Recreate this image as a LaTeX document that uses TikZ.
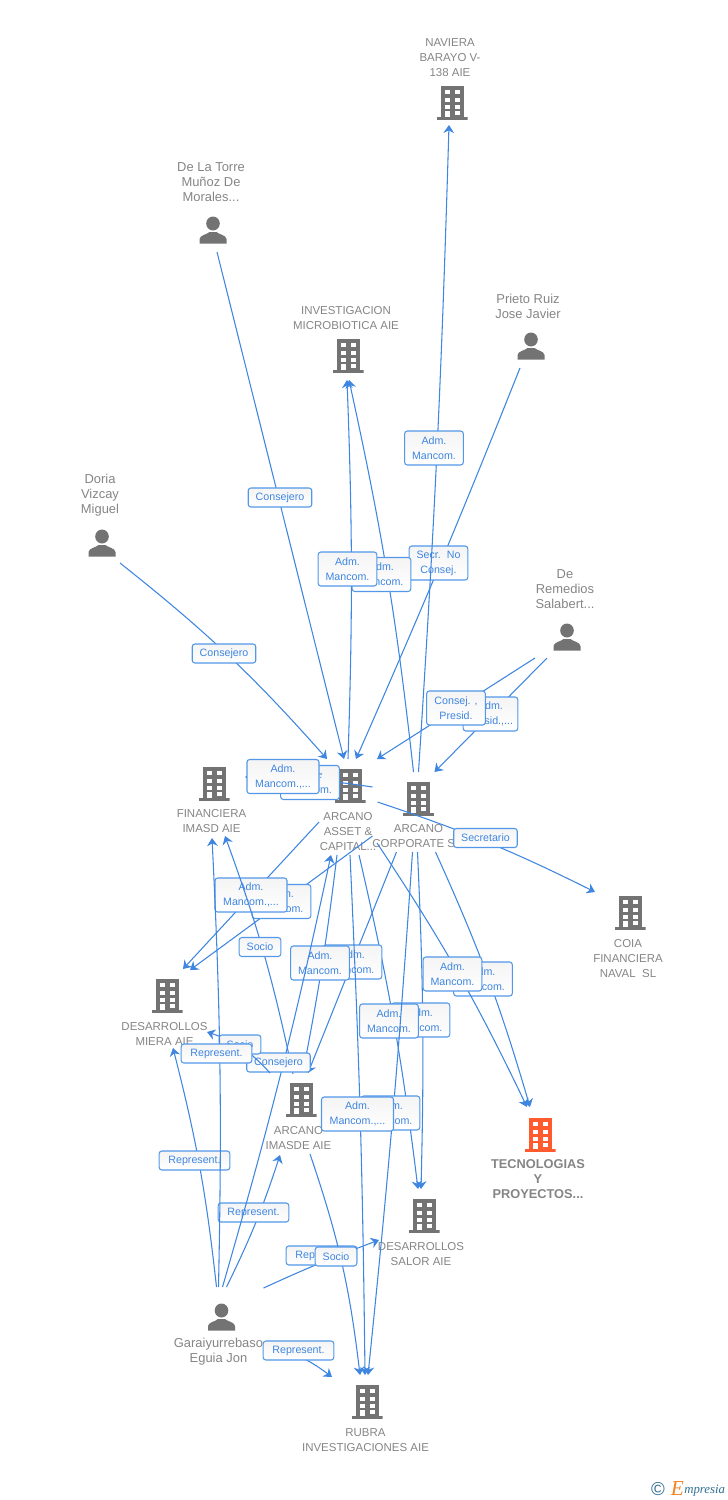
\documentclass[tikz,border=0pt]{standalone}
\usepackage{fontspec}
\setmainfont{Liberation Sans}
\newfontfamily\logofont{Liberation Serif}
\usepackage{tikz}
\usetikzlibrary{shapes, arrows.meta, positioning, calc}

\definecolor{iconGray}{HTML}{737373}
\definecolor{textGray}{HTML}{858585}
\definecolor{edgeBlue}{HTML}{3F86E0}
\definecolor{roleBorder}{HTML}{5398E8}
\definecolor{roleFill}{HTML}{F4F4F4}
\definecolor{hiOrange}{HTML}{FF5B2E}
\definecolor{logoTeal}{HTML}{2F6F8F}
\definecolor{logoOrange}{HTML}{F58220}

\newcommand{\buildingicon}[1]{
    \begin{scope}[shift={(path picture bounding box.center)}, x=0.75pt, y=-0.75pt]
        \fill[#1] (-11.5,-17) rectangle (11.5,15);
        \fill[#1] (-15.5,14) rectangle (15.5,17);
        \foreach \ypos in {-13,-5.5,2} {
            \fill[white] (-7.5,\ypos) rectangle (-2.4,\ypos+4.4);
            \fill[white] (2.6,\ypos) rectangle (7.8,\ypos+4.4);
        }
        \fill[white] (-7.5,8) rectangle (-2.4,14);
        \fill[white] (2.6,8) rectangle (7.8,12.4);
    \end{scope}
}
\newcommand{\personicon}{
    \begin{scope}[shift={(path picture bounding box.center)}, x=0.75pt, y=-0.75pt]
        \fill[iconGray] (0,-6.5) ellipse (6.8 and 7);
        \fill[iconGray] (-13.5,13.5) -- (-13.5,9) .. controls (-13,5) and (-6,4.5) .. (-3.5,2)
            -- (3.5,2) .. controls (6,4.5) and (13,5) .. (13.5,9) -- (13.5,13.5) -- cycle;
    \end{scope}
}

\begin{document}
\begin{tikzpicture}[x=0.75pt, y=-0.75pt]
    \tikzstyle{building} = [minimum width=23.25pt, minimum height=25.5pt, inner sep=0pt,
        path picture={\buildingicon{iconGray}}];
    \tikzstyle{buildingHi} = [building, path picture={\buildingicon{hiOrange}}];
    \tikzstyle{person} = [minimum width=20.25pt, minimum height=20.25pt, inner sep=0pt,
        path picture={\personicon}];
    \tikzstyle{company} = [align=center, inner sep=0pt, text=textGray,
        font=\fontsize{8.6}{11.25}\selectfont];
    \tikzstyle{companyHi} = [align=center, inner sep=0pt, text=textGray,
        font=\fontsize{9.6}{11.25}\selectfont\bfseries];
    \tikzstyle{people} = [align=center, inner sep=0pt, text=textGray,
        font=\fontsize{9.7}{11.25}\selectfont];
    \tikzstyle{rolebox} = [draw=roleBorder, line width=0.8pt, rounded corners=2pt,
        top color=roleFill, bottom color=white, text=edgeBlue, align=center,
        inner ysep=0pt, inner xsep=5.6pt, minimum height=14.25pt,
        font=\fontsize{8}{11.25}\selectfont];
    \tikzstyle{admbox} = [rolebox, inner xsep=0pt, minimum width=44pt, minimum height=25.5pt];
    \tikzstyle{admwide} = [admbox, minimum width=54pt];
    \tikzstyle{connector} = [draw=edgeBlue, line width=0.8pt,
        -{Stealth[length=6pt, width=8pt]}];

    \useasboundingbox (0,0) rectangle (728,1500);

    \node[building] at (452,103) (naviera) {};
    \node[company] at (450,58) (navieraText) {NAVIERA\\BARAYO V-\\138 AIE};
    \node[person] at (213,230) (delaTorre) {};
    \node[people] at (211,182) (delaTorreText) {De La Torre\\Muñoz De\\Morales...};
    \node[building] at (348,356) (investigacion) {};
    \node[company] at (346,318.5) (investigacionText) {INVESTIGACION\\MICROBIOTICA AIE};
    \node[person] at (531,346) (prieto) {};
    \node[people] at (528,306.5) (prietoText) {Prieto Ruiz\\Jose Javier};
    \node[person] at (102,543) (doria) {};
    \node[people] at (100,495) (doriaText) {Doria\\Vizcay\\Miguel};
    \node[person] at (567,637) (remedios) {};
    \node[people] at (565,589) (remediosText) {De\\Remedios\\Salabert...};
    \node[building] at (214,784) (financiera) {};
    \node[company] at (211.5,821.5) (financieraText) {FINANCIERA\\IMASD AIE};
    \node[building] at (350,786) (asset) {};
    \node[company] at (348,832) (assetText) {ARCANO\\ASSET \&\\CAPITAL...};
    \node[building] at (418.5,799) (corporate) {};
    \node[company] at (418.5,836.5) (corporateText) {ARCANO\\CORPORATE S...};
    \node[building] at (630,913) (coia) {};
    \node[company] at (628,959) (coiaText) {COIA\\FINANCIERA\\NAVAL\ \ SL};
    \node[building] at (167,996) (miera) {};
    \node[company] at (164.5,1033.5) (mieraText) {DESARROLLOS\\MIERA AIE};
    \node[building] at (301,1100) (imasde) {};
    \node[company] at (298.5,1138.5) (imasdeText) {ARCANO\\IMASDE AIE};
    \node[buildingHi] at (540,1135) (tecnologias) {};
    \node[companyHi] at (538,1179) (tecnologiasText) {TECNOLOGIAS\\Y\\PROYECTOS...};
    \node[building] at (424,1216) (salor) {};
    \node[company] at (421,1254.5) (salorText) {DESARROLLOS\\SALOR AIE};
    \node[person] at (221.5,1317) (garai) {};
    \node[people] at (218.5,1351.5) (garaiText) {Garaiyurrebaso\\Eguia Jon};
    \node[building] at (367,1402) (rubra) {};
    \node[company] at (365.5,1440.5) (rubraText) {RUBRA\\INVESTIGACIONES AIE};

    \path[connector] ($(prieto)+(-11,22)$) to[bend left=1] ($(asset)+(6,-27)$);
    \node[admbox] at (438.5,563) (rolePrieto) {Secr.\ \ No\\Consej.};
    \path[connector] ($(corporate)+(0,-27)$) to[bend right=1] ($(naviera)+(-3,22)$);
    \node[admbox] at (434,448) (roleNaviera) {Adm.\\Mancom.};
    \path[connector] ($(delaTorre)+(4,22)$) -- ($(asset)+(-6,-27)$);
    \node[rolebox] at (280,497.5) (roleTorre) {Consejero};
    \path[connector] ($(doria)+(18,20)$) to[bend left=5] ($(asset)+(-23,-27)$);
    \node[rolebox] at (224,653.5) (roleDoria) {Consejero};
    \path[connector] ($(corporate)+(-5,-27)$) to[bend right=3] ($(investigacion)+(1,24)$);
    \node[admbox] at (381.5,574.5) (roleCorpInv) {Adm.\\Mancom.};
    \path[connector] ($(asset)+(-2,-27)$) to[bend right=2] ($(investigacion)+(-1,24)$);
    \node[admbox] at (347.5,569) (roleAssetInv) {Adm.\\Mancom.};
    \path[connector] ($(remedios)+(-20,21)$) -- ($(corporate)+(16,-27)$);
    \node[admbox, minimum width=41pt] at (490.5,714) (roleRemCorp) {Adm.\\Presid.,...};
    \path[connector] ($(remedios)+(-32,21)$) -- ($(asset)+(27,-27)$);
    \node[admbox] at (456,708) (roleRemAsset) {Consej. ,\\Presid.};
    \path[connector] ($(corporate)+(-46,-12)$) to[bend right=4] ($(financiera)+(31,-7)$);
    \node[admbox] at (310,782.5) (roleCorpFin) {Adm.\\Mancom.};
    \path[connector] ($(asset)+(-28,-12)$) to[bend right=4] ($(financiera)+(33,-8)$);
    \node[admwide] at (283,776.5) (roleAssetFin) {Adm.\\Mancom.,...};
    \path[connector] ($(corporate)+(-41,3)$) to[bend left=4] ($(coia)+(-35,-21)$);
    \node[rolebox] at (485.5,838) (roleCoia) {Secretario};
    \path[connector] ($(corporate)+(-46,37)$) -- ($(miera)+(23,-26)$);
    \node[admbox] at (281.5,901.5) (roleCorpMiera) {Adm.\\Mancom.};
    \path[connector] ($(asset)+(-31,36)$) -- ($(miera)+(16,-27)$);
    \node[admwide] at (251,895) (roleAssetMiera) {Adm.\\Mancom.,...};
    \path[connector] ($(imasde)+(-8,-26)$) to[bend right=4] ($(financiera)+(11,52)$);
    \node[rolebox] at (260,947) (roleImasFin) {Socio};
    \path[connector] ($(corporate)+(-1,53)$) to[bend left=2] ($(salor)+(-3,-27)$);
    \node[admbox] at (420.5,1020) (roleCorpSalor) {Adm.\\Mancom.};
    \path[connector] ($(asset)+(9,69)$) to[bend left=3] ($(salor)+(-6,-27)$);
    \node[admbox] at (389,1021) (roleAssetSalor) {Adm.\\Mancom.};
    \path[connector] ($(corporate)+(17,53)$) to[bend left=4] ($(tecnologias)+(-10,-28)$);
    \node[admbox] at (483,979) (roleCorpTec) {Adm.\\Mancom.};
    \path[connector] ($(asset)+(27,57)$) to[bend left=4] ($(tecnologias)+(-13,-28)$);
    \node[admbox] at (452.5,974) (roleAssetTec) {Adm.\\Mancom.};
    \path[connector] ($(corporate)+(-22,53)$) -- ($(imasde)+(7,-27)$);
    \node[admbox] at (352.5,962) (roleCorpImas) {Adm.\\Mancom.};
    \path[connector] ($(asset)+(-13,69)$) to[bend left=2] ($(imasde)+(2,-28)$);
    \node[admbox] at (320,963) (roleAssetImas) {Adm.\\Mancom.};
    \path[connector] ($(corporate)+(-6,53)$) to[bend left=1] ($(rubra)+(1,-27)$);
    \node[admbox] at (390.5,1113) (roleCorpRubra) {Adm.\\Mancom.};
    \path[connector] ($(asset)+(0,69)$) to[bend left=1] ($(rubra)+(-2,-27)$);
    \node[admwide] at (357.5,1114) (roleAssetRubra) {Adm.\\Mancom.,...};
    \path[connector] ($(garai)+(-5,-30)$) to[bend right=4] ($(miera)+(6,52)$);
    \node[rolebox, minimum width=53pt] at (194.5,1160.5) (roleGaraiMiera) {Represent.};
    \path[connector] ($(garai)+(5,-30)$) to[bend right=4] ($(imasde)+(-21,55)$);
    \node[rolebox, minimum width=53pt] at (253.5,1212.5) (roleGaraiImas) {Represent.};
    \path[connector] ($(garai)+(1,-30)$) to[bend right=2] ($(asset)+(-19,69)$);
    \node[rolebox] at (278.5,1062.5) (roleGaraiAsset) {Consejero};
    \path[connector] ($(imasde)+(-31,-27)$) to[bend right=15] ($(miera)+(40,36)$);
    \node[rolebox] at (240,1044.5) (roleImasMiera) {Socio};
    \path[connector] ($(garai)+(-3,-30)$) to[bend right=2] ($(financiera)+(-2,54)$);
    \node[rolebox, minimum width=53pt] at (216.5,1053.5) (roleGaraiFin) {Represent.};
    \path[connector] ($(garai)+(42,-29)$) to[bend left=2] ($(salor)+(-45,24)$);
    \node[rolebox, minimum width=53pt] at (321.5,1255.5) (roleGaraiSalor) {Represent.};
    \path[connector] ($(imasde)+(9,54)$) to[bend left=6] ($(rubra)+(-7,-27)$);
    \node[rolebox] at (336,1256.5) (roleImasRubra) {Socio};
    \path[connector] ($(garai)+(42,28)$) to[bend left=12] ($(rubra)+(-35,-25)$);
    \node[rolebox, minimum width=53pt] at (298.5,1350.5) (roleGaraiRubra) {Represent.};

    \node[inner sep=0pt, text=logoTeal, font=\fontsize{14}{14}\selectfont] at (658,1489) (logoMark) {\textcopyright};
    \node[inner sep=0pt, text=logoOrange, font=\logofont\itshape\fontsize{16}{16}\selectfont] at (677.5,1488) (logoE) {E};
    \node[inner sep=0pt, text=logoTeal, font=\logofont\itshape\fontsize{9.6}{12}\selectfont, anchor=base west] at (684,1493) (logoName) {mpresia};
\end{tikzpicture}
\end{document}
